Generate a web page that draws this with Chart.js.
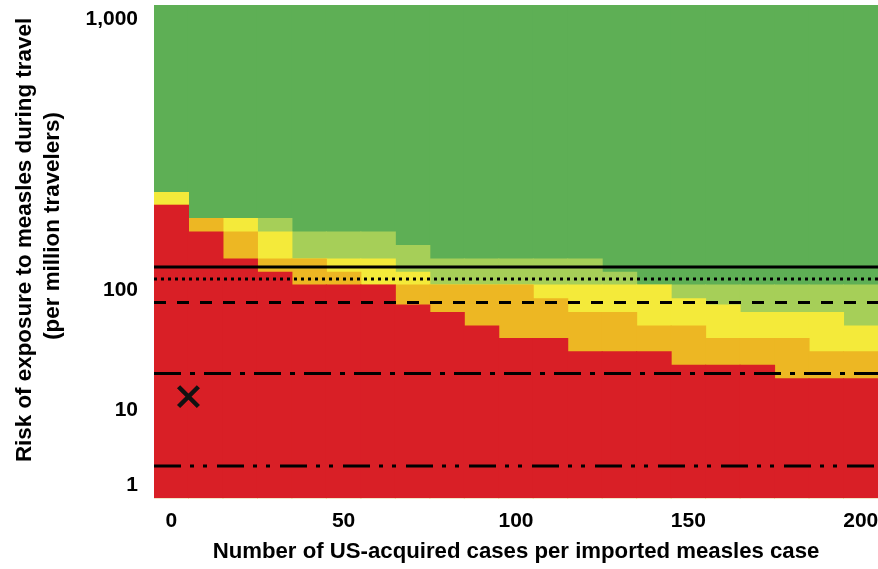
<!DOCTYPE html>
<html>
<head>
<meta charset="utf-8">
<script src="https://cdn.jsdelivr.net/npm/chart.js@4.4.1/dist/chart.umd.min.js"></script>
<style>
  html, body { margin: 0; padding: 0; background: #ffffff; }
  #wrap { width: 878px; height: 569px; }
</style>
</head>
<body>
<div id="wrap"><canvas id="c" width="878" height="569"></canvas></div>
<script>
// ---------------- DATA ----------------
// Number of US-acquired cases per imported measles case (one column each)
const X_CATEGORIES = [0, 10, 20, 30, 40, 50, 60, 70, 80, 90, 100, 110, 120, 130, 140, 150, 160, 170, 180, 190, 200];
const X_TICK_LABELS = [0, 50, 100, 150, 200];
// Risk of exposure to measles during travel (per million travelers)
const Y_TICK_VALUES = [1, 10, 100, 1000];
const Y_TICK_LABELS = ['1', '10', '100', '1,000'];

// Upper edge (risk per million travelers) of each colour band, per column
const RED_TOP         = [207, 165, 131, 117, 105, 105, 105, 76, 66, 51, 40, 40, 31, 31, 31, 24, 24, 24, 18.5, 18.5, 18.5];
const ORANGE_TOP      = [207, 185, 165, 131, 131, 117, 105, 105, 105, 105, 105, 86, 66, 66, 51, 51, 40, 40, 40, 31, 31];
const YELLOW_TOP      = [231, 185, 185, 165, 131, 131, 131, 117, 105, 105, 105, 105, 105, 105, 105, 86, 76, 66, 66, 66, 51];
const LIGHT_GREEN_TOP = [231, 185, 185, 185, 165, 165, 165, 147, 131, 131, 131, 131, 131, 117, 105, 105, 105, 105, 105, 105, 105];
const GREEN_TOP       = [1200, 1200, 1200, 1200, 1200, 1200, 1200, 1200, 1200, 1200, 1200, 1200, 1200, 1200, 1200, 1200, 1200, 1200, 1200, 1200, 1200];

// Horizontal reference risk levels
const REF_LINE_VALUES = [122, 110, 79, 20.3, 1.8];
// Observed point (x marker)
const US_POINT_X = [5];
const US_POINT_Y = [13];

const X_TITLE = 'Number of US-acquired cases per imported measles case';
const Y_TITLE_LINES = ['Risk of exposure to measles during travel', '(per million travelers)'];

// ---------------- AXIS WARP (the figure's non-uniform risk axis) ----------------
const WARP_LOG = [0, 1, 2, 3];
const WARP_U = [1.0, 6.6, 15.6, 35.9];
const U_MIN = 0, U_MAX = 37;
function warp(v) {
  const L = Math.log10(v);
  let i = 0;
  if (L >= WARP_LOG[2]) i = 2; else if (L >= WARP_LOG[1]) i = 1; else i = 0;
  return WARP_U[i] + (L - WARP_LOG[i]) * (WARP_U[i + 1] - WARP_U[i]) / (WARP_LOG[i + 1] - WARP_LOG[i]);
}

// ---------------- FONTS ----------------
const mctx = document.createElement('canvas').getContext('2d');
function hasFont(name) {
  const probe = 'mmmwwwiii1,000 abc';
  mctx.font = 'bold 40px monospace';
  const a = mctx.measureText(probe).width;
  mctx.font = 'bold 40px "' + name + '", monospace';
  const b = mctx.measureText(probe).width;
  return Math.abs(a - b) > 0.5;
}
const NARROW = hasFont('Liberation Sans Narrow');
const FONT_FAMILY = NARROW ? '"Liberation Sans Narrow", "Liberation Sans", Arial, sans-serif'
                           : '"Liberation Sans", Arial, Helvetica, sans-serif';
function sizeToFit(text, targetWidth) {
  mctx.font = 'bold 100px ' + FONT_FAMILY;
  return Math.round(100 * targetWidth / mctx.measureText(text).width * 10) / 10;
}
const TICK_SIZE = NARROW ? 23 : 21;
const X_TITLE_SIZE = sizeToFit(X_TITLE, 608);
const Y_TITLE_SIZE = sizeToFit(Y_TITLE_LINES[0], 444);

// ---------------- STYLE ----------------
const COLORS = {
  red: '#D91F26', orange: '#EDB723', yellow: '#F4EA3A', lightGreen: '#A6CF58', green: '#5EAF55'
};
const LINE_DASHES = [[], [3, 4], [12, 11], [27, 9, 5, 9], [27, 9, 4, 9, 4, 10]];

function band(label, tops, color, order) {
  return {
    type: 'bar', label, data: tops.map(warp), backgroundColor: color, borderWidth: 0,
    barPercentage: 1.03, categoryPercentage: 1, grouped: false, order, xAxisID: 'x', yAxisID: 'y'
  };
}

const datasets = [
  band('high risk', RED_TOP, COLORS.red, 1),
  band('orange', ORANGE_TOP, COLORS.orange, 2),
  band('yellow', YELLOW_TOP, COLORS.yellow, 3),
  band('light green', LIGHT_GREEN_TOP, COLORS.lightGreen, 4),
  band('low risk', GREEN_TOP, COLORS.green, 5)
];
REF_LINE_VALUES.forEach((v, i) => {
  datasets.push({
    type: 'line', label: 'ref ' + v, xAxisID: 'x2', yAxisID: 'y',
    data: [{ x: -5, y: warp(v) }, { x: 205, y: warp(v) }],
    borderColor: '#000', borderWidth: 3, borderDash: LINE_DASHES[i], borderCapStyle: 'butt',
    pointRadius: 0, fill: false, order: 0
  });
});
datasets.push({
  type: 'scatter', label: 'US', xAxisID: 'x2', yAxisID: 'y',
  data: US_POINT_X.map((x, i) => ({ x, y: warp(US_POINT_Y[i]) })),
  pointStyle: 'crossRot', pointRadius: 14, pointBorderWidth: 4.5,
  borderColor: '#111', backgroundColor: '#111', order: -1
});

const yTitlePlugin = {
  id: 'yTitle',
  afterDraw(chart) {
    const ctx = chart.ctx;
    const cx = [25, 53];
    const cy = [240, 226];
    ctx.save();
    ctx.fillStyle = '#000';
    ctx.font = 'bold ' + Y_TITLE_SIZE + 'px ' + FONT_FAMILY;
    ctx.textAlign = 'center';
    ctx.textBaseline = 'middle';
    Y_TITLE_LINES.forEach((t, i) => {
      ctx.save();
      ctx.translate(cx[i], cy[i]);
      ctx.rotate(-Math.PI / 2);
      ctx.fillText(t, 0, 0);
      ctx.restore();
    });
    ctx.restore();
  }
};

new Chart(document.getElementById('c'), {
  data: { labels: X_CATEGORIES.map(String), datasets },
  options: {
    responsive: false, animation: false, events: [], devicePixelRatio: 1,
    layout: { autoPadding: false, padding: { top: 5, right: 0, bottom: 0, left: 0 } },
    plugins: { legend: { display: false }, tooltip: { enabled: false } },
    scales: {
      x: {
        type: 'category', position: 'bottom', offset: true,
        grid: { display: false, drawTicks: false }, border: { display: false },
        ticks: {
          autoSkip: false, maxRotation: 0, padding: NARROW ? 9 : 10, color: '#000',
          font: { family: FONT_FAMILY, size: TICK_SIZE, weight: 'bold' },
          callback: (val, idx) => X_TICK_LABELS.includes(X_CATEGORIES[idx]) ? String(X_CATEGORIES[idx]) : ''
        },
        title: {
          display: true, text: X_TITLE, color: '#000',
          font: { family: FONT_FAMILY, size: X_TITLE_SIZE, weight: 'bold', lineHeight: 1.2 },
          padding: { top: 0, bottom: 4 }
        },
        afterFit: (s) => { s.height = 70.7; s.paddingLeft = 0; s.paddingRight = 0; }
      },
      x2: { type: 'linear', min: -5, max: 205, display: false },
      y: {
        type: 'linear', min: U_MIN, max: U_MAX,
        grid: { display: false, drawTicks: false }, border: { display: false },
        afterBuildTicks: (s) => { s.ticks = Y_TICK_VALUES.map(v => ({ value: warp(v) })); },
        ticks: {
          autoSkip: false, padding: 16, color: '#000',
          font: { family: FONT_FAMILY, size: TICK_SIZE, weight: 'bold' },
          callback: (val, idx) => Y_TICK_LABELS[idx]
        },
        afterFit: (s) => { s.width = 154; s.paddingTop = 0; s.paddingBottom = 0; }
      }
    }
  },
  plugins: [yTitlePlugin]
});
</script>
</body>
</html>
